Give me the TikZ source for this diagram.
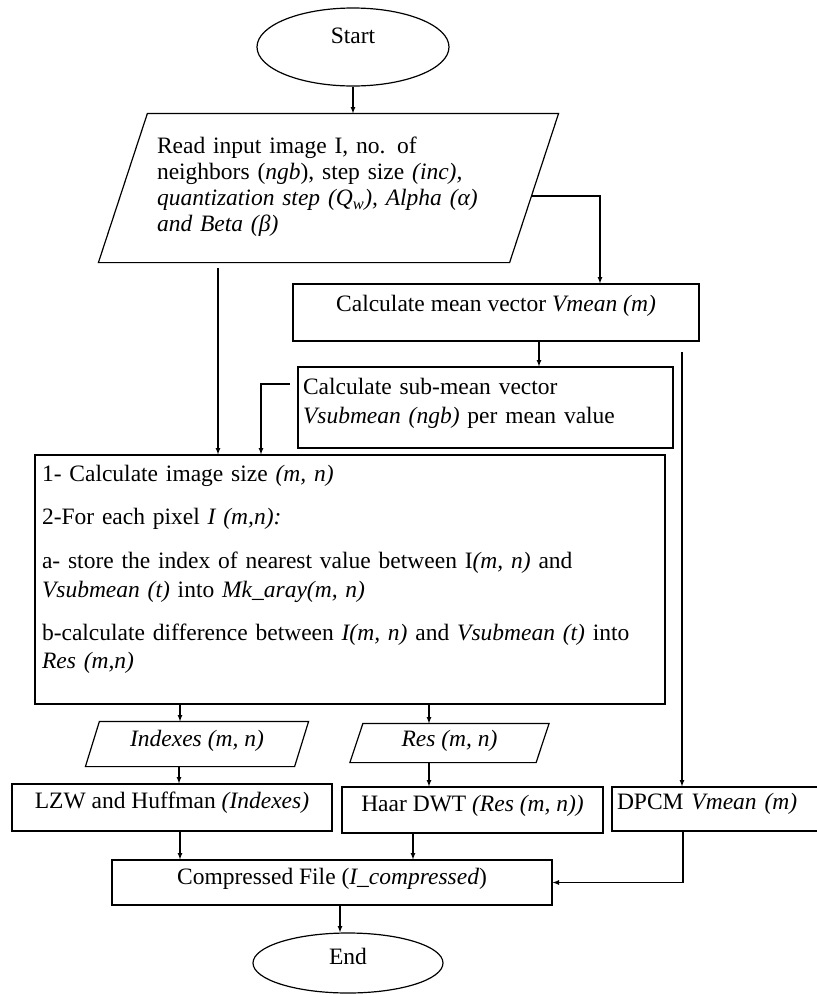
\documentclass[tikz,border=0pt]{standalone}
\usepackage{fontspec}
\setmainfont{Liberation Serif}
\usetikzlibrary{shapes,arrows,calc,positioning}

\begin{document}
\begin{tikzpicture}[x=1pt,y=-1pt,line width=1.2pt,
  font=\fontsize{23.5}{26}\selectfont,
  box/.style={draw,rectangle,inner sep=0pt,text height=15pt},
  iobox/.style={rectangle,inner sep=0pt,text height=15pt},
  term/.style={draw,ellipse,inner sep=0pt,text height=15pt},
  flow/.style={-latex}]

\useasboundingbox (0,0) rectangle (817,994);

\node[term,minimum width=192pt,minimum height=78pt,text depth=22pt] (start) at (353,47) {Start};

\node[iobox,minimum width=410pt,minimum height=148pt,text width=343pt,inner xsep=33.5pt,align=left,text depth=84pt] (input) at (328.5,188) {Read input image I, no. of\\ neighbors (\textit{ngb}), step size \textit{(inc),}\\ \textit{quantization step (Q\textsubscript{w}), Alpha (α)}\\ \textit{and Beta (β)}};

\node[box,minimum width=406pt,minimum height=57pt,text depth=17pt] (vmean) at (496,312.5) {Calculate mean vector \textit{Vmean (m)}};

\node[box,minimum width=375pt,minimum height=81pt,text width=365pt,inner xsep=5pt,align=left,text depth=41pt,font=\fontsize{23.5}{29}\selectfont] (submean) at (485.5,407.5) {Calculate sub-mean vector\\ \textit{Vsubmean (ngb)} per mean value};

\node[box,minimum width=630pt,minimum height=249pt,text width=616pt,inner xsep=7pt,align=left,text depth=211pt,font=\fontsize{23.5}{28.5}\selectfont] (main) at (350,579.5) {1- Calculate image size \textit{(m, n)}\\[14.5pt] 2-For each pixel \textit{I (m,n):}\\[15.5pt] a- store the index of nearest value between I\textit{(m, n)} and\\ \textit{Vsubmean (t)} into \textit{Mk\_aray(m, n)}\\[14.5pt] b-calculate difference between \textit{I(m, n)} and \textit{Vsubmean (t)} into\\ \textit{Res (m,n)}};

\node[iobox,minimum width=208pt,minimum height=44pt,text depth=10pt] (idx) at (197,744) {\textit{Indexes (m, n)}};
\node[iobox,minimum width=185pt,minimum height=38pt,text depth=8pt] (res) at (449.5,743) {\textit{Res (m, n)}};

\foreach \nn/\ss in {input/24.5,idx/7,res/6.5}{
\draw ([xshift=\ss pt]\nn.north west) -- ([xshift=\ss pt]\nn.north east) -- ([xshift=-\ss pt]\nn.south east) -- ([xshift=-\ss pt]\nn.south west) -- cycle;
}

\node[box,minimum width=320pt,minimum height=47pt,text depth=13pt] (lzw) at (172,807.5) {LZW and Huffman \textit{(Indexes)}};
\node[box,minimum width=261pt,minimum height=46pt,text depth=12pt] (haar) at (472.5,810) {Haar DWT \textit{(Res (m, n))}};
\node[box,minimum width=210pt,minimum height=44pt,text width=200pt,inner xsep=5pt,align=left,text depth=14pt] (dpcm) at (717,809) {DPCM \textit{Vmean (m)}};

\node[box,minimum width=440pt,minimum height=45pt,text depth=11pt] (comp) at (332,882.5) {Compressed File (\textit{I\_compressed})};
\node[term,minimum width=190pt,minimum height=60pt,text depth=12pt] (end) at (348,963) {End};

\coordinate (inR) at ([xshift=-2.6pt,yshift=-8pt]input.east);
\coordinate (inB) at (218,268);
\coordinate (sbL) at (290,384);
\coordinate (vmD) at (682,352);

\draw[flow] (start.south) -- (start.south |- input.north);
\draw[flow] (inR) -| ([xshift=104pt]vmean.north);
\draw[flow] (inB) -- (inB |- main.north);
\draw[flow] ([xshift=43pt]vmean.south) coordinate (vs) -- (vs |- submean.north);
\draw[flow] (sbL) -| ([xshift=-89pt]main.north);
\draw[flow] (vmD) -- (vmD |- dpcm.north);

\draw[flow] ([xshift=-170pt]main.south) coordinate (ms1) -- (ms1 |- idx.north);
\draw[flow] ([xshift=79pt]main.south) coordinate (ms2) -- (ms2 |- res.north);
\draw[flow] ([xshift=-18pt]idx.south) coordinate (is) -- (is |- lzw.north);
\draw[flow] ([xshift=-20.5pt]res.south) coordinate (rs) -- (rs |- haar.north);

\draw[flow] ([xshift=8pt]lzw.south) coordinate (ls) -- (ls |- comp.north);
\draw[flow] ([xshift=-59.5pt]haar.south) coordinate (hs) -- (hs |- comp.north);
\draw[flow] ([xshift=-34pt]dpcm.south) |- (comp.east);
\draw[flow] ([xshift=8pt]comp.south) coordinate (cs) -- (cs |- end.north);

\end{tikzpicture}
\end{document}
